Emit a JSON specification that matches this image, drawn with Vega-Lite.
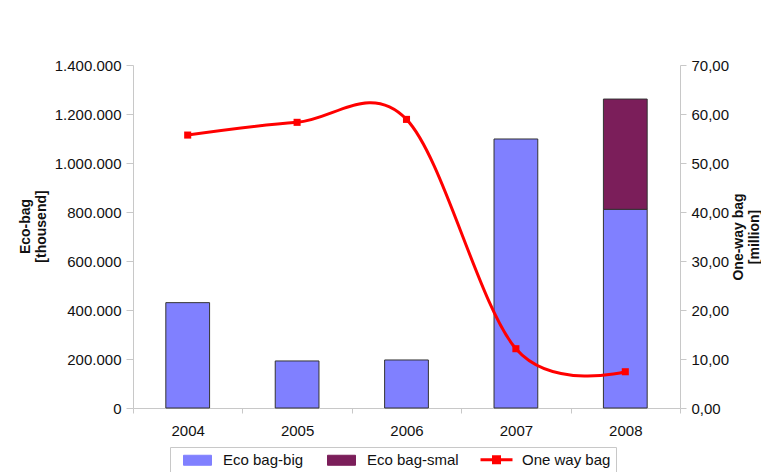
{
  "$schema": "https://vega.github.io/schema/vega-lite/v6.json",
  "width": 547,
  "height": 343,
  "autosize": {"type": "none"},
  "padding": {"left": 133, "top": 65, "right": 81, "bottom": 64},
  "background": "white",
  "config": {
    "locale": {"number": {"decimal": ",", "thousands": ".", "grouping": [3], "currency": ["", " €"]}},
    "view": {"stroke": null},
    "font": "Liberation Sans",
    "axis": {
      "labelFont": "Liberation Sans",
      "labelFontSize": 15,
      "labelColor": "#111111",
      "domainColor": "#c8c8c8",
      "tickColor": "#c8c8c8",
      "grid": false,
      "titleFont": "Liberation Sans",
      "titleFontSize": 14,
      "titleFontWeight": "bold",
      "titleColor": "#111111"
    },
    "legend": {
      "title": null,
      "orient": "none",
      "legendX": 37,
      "legendY": 382,
      "direction": "horizontal",
      "strokeColor": "#c8c8c8",
      "padding": 5,
      "symbolOffset": 15,
      "labelOffset": 18,
      "columnPadding": 15,
      "labelFont": "Liberation Sans",
      "labelFontSize": 15,
      "labelColor": "#111111",
      "symbolSize": 400
    }
  },
  "datasets": {
    "eco": [
      {"year": "2004", "series": "Eco bag-big", "value": 430000},
      {"year": "2005", "series": "Eco bag-big", "value": 192000},
      {"year": "2006", "series": "Eco bag-big", "value": 196000},
      {"year": "2007", "series": "Eco bag-big", "value": 1098000},
      {"year": "2008", "series": "Eco bag-big", "value": 811000},
      {"year": "2008", "series": "Eco bag-smal", "value": 450000}
    ],
    "oneway": [
      {"year": "2004", "value": 55.7},
      {"year": "2005", "value": 58.3},
      {"year": "2006", "value": 58.9},
      {"year": "2007", "value": 12.1},
      {"year": "2008", "value": 7.4}
    ]
  },
  "layer": [
    {
      "data": {"name": "eco"},
      "mark": {"type": "bar", "width": {"band": 0.4}, "stroke": "#333333", "strokeWidth": 1},
      "encoding": {
        "x": {
          "field": "year", "type": "nominal",
          "scale": {"paddingInner": 0, "paddingOuter": 0},
          "axis": {"title": null, "labelAngle": 0, "tickBand": "extent", "tickSize": 5, "labelPadding": 10}
        },
        "y": {
          "field": "value", "type": "quantitative", "stack": "zero",
          "scale": {"domain": [0, 1400000]},
          "axis": {
            "title": ["Eco-bag", "[thousend]"],
            "format": ",.0f",
            "values": [0, 200000, 400000, 600000, 800000, 1000000, 1200000, 1400000],
            "tickSize": 7, "labelPadding": 5, "titlePadding": 6, "titleY": 161
          }
        },
        "order": {"field": "series", "sort": "ascending"},
        "color": {
          "field": "series", "type": "nominal",
          "scale": {"domain": ["Eco bag-big", "Eco bag-smal", "One way bag"], "range": ["#8080FF", "#7B1E5A", "#FF0000"]},
          "legend": {
            "encode": {
              "symbols": {
                "update": {
                  "shape": {"signal": "datum.value === 'One way bag' ? 'M-1.6,0H1.6M-0.3,-0.3H0.3V0.3H-0.3Z' : 'M-1.4,-0.5H1.4V0.5H-1.4Z'"},
                  "fill": {"signal": "datum.value === 'One way bag' ? '#FF0000' : datum.value === 'Eco bag-smal' ? '#7B1E5A' : '#8080FF'"},
                  "stroke": {"signal": "datum.value === 'One way bag' ? '#FF0000' : '#333333'"},
                  "strokeWidth": {"signal": "datum.value === 'One way bag' ? 3 : 1"},
                  "opacity": {"value": 1}
                }
              }
            }
          }
        }
      }
    },
    {
      "data": {"name": "oneway"},
      "mark": {"type": "line", "interpolate": "cardinal", "tension": 0, "strokeWidth": 3},
      "encoding": {
        "x": {"field": "year", "type": "nominal"},
        "y": {
          "field": "value", "type": "quantitative",
          "scale": {"domain": [0, 70]},
          "axis": {
            "orient": "right",
            "title": ["One-way bag", "[million]"],
            "titleAngle": -90,
            "format": ".2f",
            "values": [0, 10, 20, 30, 40, 50, 60, 70],
            "tickSize": 6, "labelPadding": 5, "titlePadding": 1
          }
        },
        "color": {
          "datum": "One way bag",
          "legend": {
            "encode": {
              "symbols": {
                "update": {
                  "shape": {"signal": "datum.value === 'One way bag' ? 'M-1.6,0H1.6M-0.3,-0.3H0.3V0.3H-0.3Z' : 'M-1.4,-0.5H1.4V0.5H-1.4Z'"},
                  "fill": {"signal": "datum.value === 'One way bag' ? '#FF0000' : datum.value === 'Eco bag-smal' ? '#7B1E5A' : '#8080FF'"},
                  "stroke": {"signal": "datum.value === 'One way bag' ? '#FF0000' : '#333333'"},
                  "strokeWidth": {"signal": "datum.value === 'One way bag' ? 3 : 1"},
                  "opacity": {"value": 1}
                }
              }
            }
          }
        }
      }
    },
    {
      "data": {"name": "oneway"},
      "mark": {"type": "point", "shape": "square", "filled": true, "size": 50, "color": "#FF0000", "opacity": 1},
      "encoding": {
        "x": {"field": "year", "type": "nominal"},
        "y": {"field": "value", "type": "quantitative", "scale": {"domain": [0, 70]}, "axis": null}
      }
    }
  ],
  "resolve": {"scale": {"y": "independent"}}
}
